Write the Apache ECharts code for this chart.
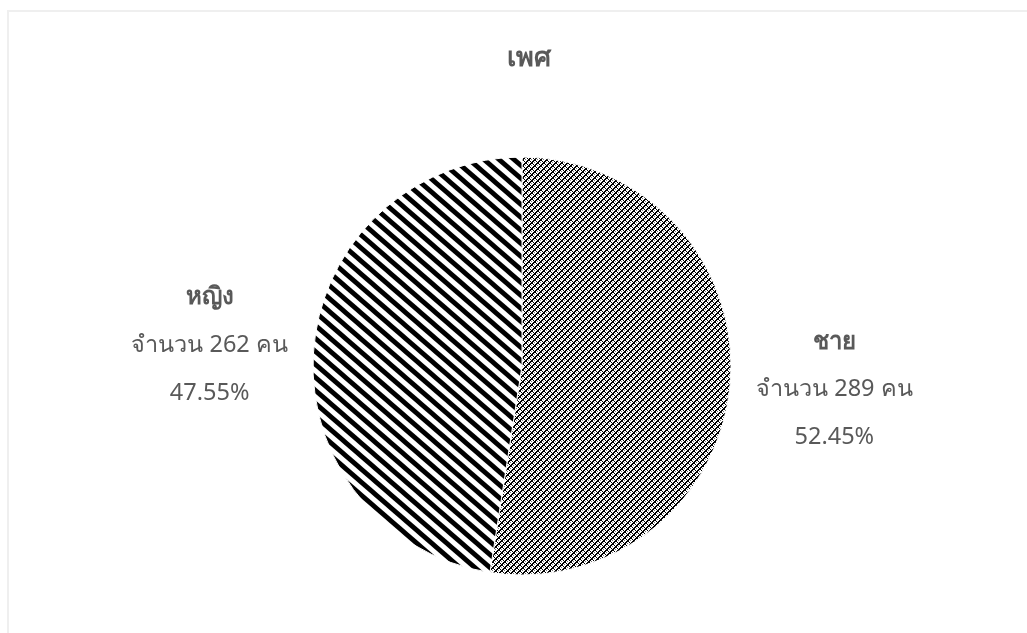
<!DOCTYPE html>
<html>
<head>
<meta charset="utf-8">
<script src="https://cdn.jsdelivr.net/npm/echarts@6/dist/echarts.min.js"></script>
<style>
html, body { margin: 0; padding: 0; background: #fff; overflow: hidden; }
#frame { position: absolute; left: 7px; top: 10px; width: 1100px; height: 700px; border: 2px solid #efefef; box-sizing: border-box; }
#chart { position: absolute; left: 0; top: 0; width: 1027px; height: 633px; }
</style>
</head>
<body>
<div id="frame"></div>
<div id="chart"></div>
<script>
var title = 'เพศ';
var categories = ['ชาย', 'หญิง'];
var counts = [289, 262];
var percents = ['52.45%', '47.55%'];

// ลายจุด (ชาย)
function dotPattern() {
    var c = document.createElement('canvas');
    c.width = 6; c.height = 6;
    var ctx = c.getContext('2d');
    ctx.fillStyle = '#fff';
    ctx.fillRect(0, 0, 6, 6);
    for (var y = 0; y < 6; y++) {
        for (var x = 0; x < 6; x++) {
            if ((x + y) % 6 == 3 || (x - y + 6) % 6 == 3 || (x + y) % 6 == 4) {
                ctx.fillStyle = '#000';
                ctx.fillRect(x, y, 1, 1);
            } else if (x % 3 == 0 && y % 3 == 0) {
                ctx.fillStyle = '#777';
                ctx.fillRect(x, y, 1, 1);
            }
        }
    }
    return c;
}

// ลายเส้นทแยง (หญิง)
function stripePattern() {
    var w = 15, h = 13;
    var c = document.createElement('canvas');
    c.width = w; c.height = h;
    var ctx = c.getContext('2d');
    ctx.fillStyle = '#fff';
    ctx.fillRect(0, 0, w, h);
    ctx.strokeStyle = '#000';
    ctx.lineWidth = 4.8;
    for (var k = -1; k <= 1; k++) {
        ctx.beginPath();
        ctx.moveTo(-w, -h + k * h);
        ctx.lineTo(2 * w, 2 * h + k * h);
        ctx.stroke();
    }
    return c;
}

var fills = [
    { image: dotPattern(), repeat: 'repeat' },
    { image: stripePattern(), repeat: 'repeat' }
];
var labelNudge = [[0, 7], [0, -4]];

var data = categories.map(function (name, i) {
    return { name: name, value: counts[i], itemStyle: { color: fills[i] }, label: { offset: labelNudge[i] } };
});

var chart = echarts.init(document.getElementById('chart'));
var option = {
    backgroundColor: 'transparent',
    title: {
        text: title,
        left: 524,
        top: 40,
        textAlign: 'center',
        textStyle: { fontFamily: 'Noto Sans', fontSize: 27, fontWeight: 'bold', color: '#595959' }
    },
    series: [{
        type: 'pie',
        center: [522, 366],
        radius: 209,
        startAngle: 90,
        clockwise: true,
        data: data,
        itemStyle: { borderColor: '#fff', borderWidth: 1 },
        emphasis: { disabled: true },
        labelLine: { show: false, length: 9, length2: 5 },
        label: {
            position: 'outside',
            fontFamily: 'Noto Sans',
            formatter: function (p) {
                return '{b|' + p.name + '}\n{n|จำนวน ' + counts[p.dataIndex] + ' คน}\n{n|' + percents[p.dataIndex] + '}';
            },
            rich: {
                b: { fontFamily: 'Noto Sans', fontSize: 24, fontWeight: 'bold', color: '#595959', lineHeight: 48, width: 170, align: 'center' },
                n: { fontFamily: 'Noto Sans', fontSize: 23.5, color: '#595959', lineHeight: 48, width: 170, align: 'center' }
            }
        }
    }]
};
chart.setOption(option);
</script>
</body>
</html>
